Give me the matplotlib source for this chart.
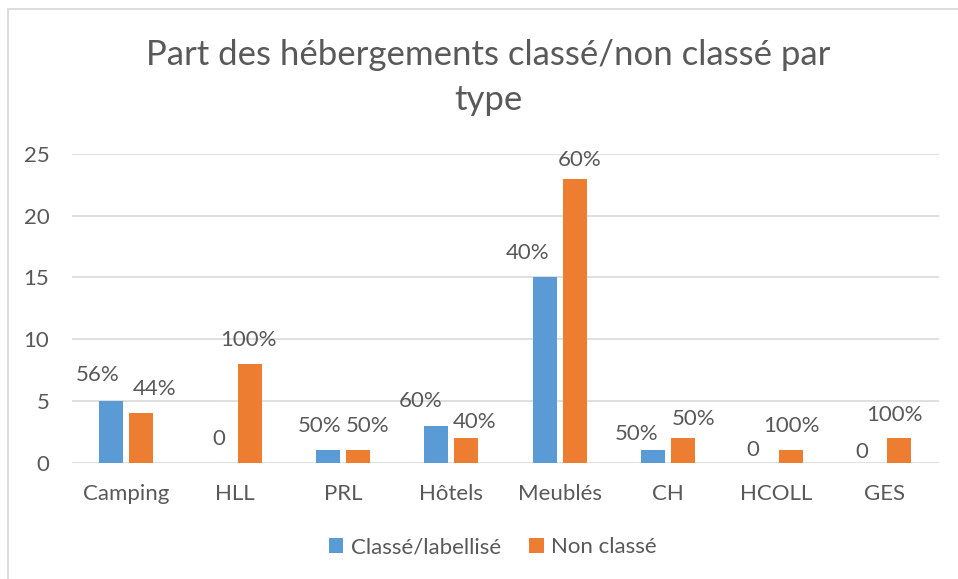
import numpy as np
import matplotlib
matplotlib.use("Agg")
import matplotlib.pyplot as plt
from matplotlib.patches import Rectangle

plt.rcParams["font.family"] = ["Lato", "DejaVu Sans"]

# données
categories = ["Camping", "HLL", "PRL", "Hôtels", "Meublés", "CH", "HCOLL", "GES"]
classe = [5, 0, 1, 3, 15, 1, 0, 0]
non_classe = [4, 8, 1, 2, 23, 2, 1, 2]
labels_classe = ["56%", "0", "50%", "60%", "40%", "50%", "0", "0"]
labels_non_classe = ["44%", "100%", "50%", "40%", "60%", "50%", "100%", "100%"]
yticks = [0, 5, 10, 15, 20, 25]

# décalage des étiquettes (pixels) -- déplacées à la main dans l'original
off_classe = [(-14, 20), (-1, 18), (-8, 18.5), (-16, 18.5), (-16.5, 18), (-16, 10), (-8, 6.5), (-8, 4.5)]
off_non_classe = [(13, 18), (-1, 17.5), (10, 18.5), (8, 10), (5, 13), (10.5, 13), (0, 18.5), (-5, 17.5)]

txt = "#595959"
blue = "#5B9BD5"
orange = "#ED7D31"
fs = 16

fig = plt.figure(figsize=(9.58, 5.79), dpi=100)
ax = fig.add_axes([72.2 / 958, 116.3 / 579, 866.4 / 958, 308.7 / 579])

# cadre du graphique
fig.patches.append(Rectangle((8 / 958, -0.1), 1.1, 1.1 - 9 / 579,
                             transform=fig.transFigure, fill=False,
                             edgecolor="#D9D9D9", lw=1.3))

x = np.arange(len(categories))
w = 0.2216
off = 0.1385
b1 = ax.bar(x - off, classe, w, color=blue, zorder=3)
b2 = ax.bar(x + off, non_classe, w, color=orange, zorder=3)

for bars, labs, offs in [(b1, labels_classe, off_classe), (b2, labels_non_classe, off_non_classe)]:
    for rect, lab, o in zip(bars, labs, offs):
        ax.annotate(lab, (rect.get_x() + rect.get_width() / 2, rect.get_height()),
                    xytext=o, textcoords="offset pixels",
                    ha="center", va="baseline", fontsize=fs, color=txt)

ax.set_xlim(-0.5, len(categories) - 0.5)
ax.set_ylim(0, 25)
ax.set_yticks(yticks)
ax.set_xticks(x)
ax.set_xticklabels(categories)
ax.tick_params(axis="both", length=0, labelsize=fs, labelcolor=txt)
ax.tick_params(axis="x", pad=15)
ax.tick_params(axis="y", pad=16.5)
ax.grid(axis="y", color="#D9D9D9", lw=1.2, zorder=0)
for s in ax.spines.values():
    s.set_visible(False)
ax.set_axisbelow(True)

fig.text(488 / 958, 1 - 55 / 579, "Part des hébergements classé/non classé par",
         ha="center", va="center", fontsize=25, color=txt)
fig.text(488 / 958, 1 - 100 / 579, "type",
         ha="center", va="center", fontsize=25, color=txt)

fig.legend([b1, b2], ["Classé/labellisé", "Non classé"], loc="center",
           bbox_to_anchor=(493 / 958, 1 - 547 / 579), ncol=2, frameon=False,
           fontsize=fs, labelcolor=txt, handlelength=0.65, handleheight=0.65,
           handletextpad=0.35, columnspacing=1.25)

plt.savefig("out.png", dpi=100)
plt.close()
